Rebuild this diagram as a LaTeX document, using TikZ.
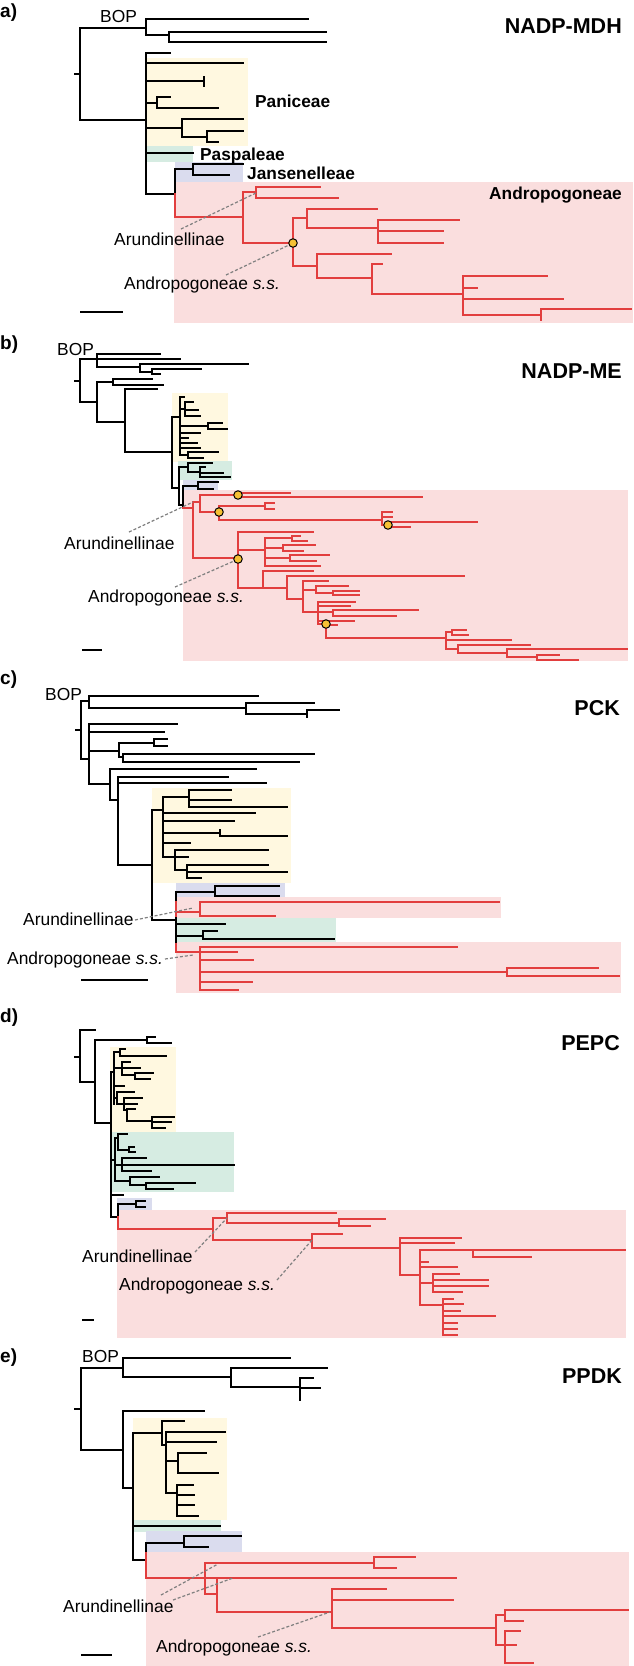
\documentclass[tikz,border=0pt]{standalone}
\usepackage{fontspec}
\setmainfont{Liberation Sans}
\definecolor{tred}{RGB}{226,62,62}
\definecolor{bgpink}{RGB}{250,222,222}
\definecolor{bgyel}{RGB}{255,248,224}
\definecolor{bggrn}{RGB}{214,236,226}
\definecolor{bglav}{RGB}{218,220,238}
\definecolor{nodeyel}{RGB}{246,193,52}
\newcommand\trh[3]{\draw (#1,#2) -- (#3,#2);}
\newcommand\trv[3]{\draw (#1,#2) -- (#1,#3);}
\tikzset{
  blk/.style={line width=1.6pt, black, line cap=rect},
  rd/.style={line width=1.6pt, tred, line cap=rect},
  lab/.style={inner sep=0pt, anchor=base west, font=\fontsize{17.4}{20}\selectfont},
  grp/.style={inner sep=0pt, anchor=base west, font=\fontsize{17.3}{20}\selectfont\bfseries},
  ttl/.style={inner sep=0pt, anchor=base east, font=\fontsize{21.5}{24}\selectfont\bfseries},
  pl/.style={inner sep=0pt, anchor=base west, font=\fontsize{19}{22}\selectfont\bfseries},
  lead/.style={dashed, dash pattern=on 3pt off 2pt, line width=1.2pt, gray},
  sbar/.style={line width=1.6pt, black},
  dot/.style={circle, draw=black, fill=nodeyel, minimum size=8.5pt, inner sep=0pt, line width=1pt}
}
\begin{document}
\begin{tikzpicture}[x=1pt,y=-1pt]
\useasboundingbox (0,0) rectangle (633,1666);
\fill[white] (0,0) rectangle (633,1666);
% ================= panel a =================
\fill[bgyel] (146,58) rectangle (248,146);
\fill[bggrn] (146,146) rectangle (193,162);
\fill[bglav] (175,162) rectangle (243,182);
\fill[bgpink] (174,182) rectangle (633,323);
\begin{scope}[blk]
\trh{75}{74}{80}\trv{80}{28}{120}\trh{80}{28}{146}\trv{146}{19}{35}
\trh{146}{19}{308}\trh{146}{35}{169}\trv{169}{32}{42}\trh{169}{32}{326}\trh{169}{42}{326}
\trh{80}{120}{146}\trv{146}{53}{194}\trh{146}{53}{170}\trh{146}{63}{243}
\trh{146}{81}{204}\trv{204}{77}{86}
\trh{146}{103}{157}\trv{157}{97}{108}\trh{157}{97}{170}\trh{157}{108}{218}
\trh{146}{128}{182}\trv{182}{119}{137}\trh{182}{119}{243}\trh{182}{137}{207}
\trv{207}{131}{142}\trh{207}{131}{243}\trh{207}{142}{218}
\trh{146}{153}{193}
\trh{146}{194}{175}\trv{175}{169}{194}\trh{175}{169}{193}\trv{193}{164}{175}
\trh{193}{164}{243}\trh{193}{175}{229}
\end{scope}
\begin{scope}[rd]
\trv{175}{194}{217}\trh{175}{217}{243}\trv{243}{192}{243}
\trh{243}{192}{256}\trv{256}{187}{198}\trh{256}{187}{320}\trh{256}{198}{338}
\trh{243}{243}{293}\trv{293}{218}{266}
\trh{293}{218}{307}\trv{307}{209}{228}\trh{307}{209}{377}\trh{307}{228}{378}
\trv{378}{220}{243}\trh{378}{220}{459}\trh{378}{231}{443}\trh{378}{243}{443}
\trh{293}{266}{317}\trv{317}{254}{278}\trh{317}{254}{391}\trh{317}{278}{372}
\trv{372}{264}{294}\trh{372}{264}{382}\trh{372}{294}{463}
\trv{463}{276}{315}\trh{463}{276}{547}\trh{463}{288}{477}\trh{463}{299}{563}
\trh{463}{315}{541}\trv{541}{309}{320}\trh{541}{309}{631}
\end{scope}
\node[dot] (a1) at (293,243) {};
\node[pl] (aL) at (0,17) {a)};
\node[lab] (aB) at (100,22.5) {BOP};
\node[ttl] (aT) at (622,33.5) {NADP-MDH};
\node[grp] (aP) at (255,107.5) {Paniceae};
\node[grp] (aS) at (200,160.5) {Paspaleae};
\node[grp] (aJ) at (247,179.5) {Jansenelleae};
\node[grp] (aA) at (489,199.5) {Andropogoneae};
\node[lab] (aR) at (114,245.5) {Arundinellinae};
\node[lab] (aS2) at (124,289.5) {Andropogoneae {\itshape s.s.}};
\coordinate (aR1) at (181,229); \coordinate (aR2) at (256,193);
\coordinate (aS1) at (226,275); \coordinate (aS3) at (289,245);
\draw[lead] (aR1) -- (aR2);
\draw[lead] (aS1) -- (aS3);
\coordinate (aK1) at (80,312); \coordinate (aK2) at (123,312);
\draw[sbar] (aK1) -- (aK2);
% ================= panel b =================
\fill[bgyel] (172,393) rectangle (228,462);
\fill[bggrn] (178,461) rectangle (232,480);
\fill[bglav] (183,480) rectangle (218,490);
\fill[bgpink] (183,490) rectangle (628,661);
\begin{scope}[blk]
\trh{75}{381}{80}\trv{80}{359}{402}\trh{80}{359}{97}\trv{97}{354}{367}
\trh{97}{354}{160}\trh{97}{359}{180}\trh{97}{367}{140}\trv{140}{364}{372}
\trh{140}{364}{248}\trh{140}{372}{152}\trv{152}{369}{374}\trh{152}{369}{201}\trh{152}{374}{160}
\trh{80}{402}{97}\trv{97}{382}{422}\trh{97}{382}{113}\trv{113}{379}{385}
\trh{113}{379}{152}\trh{113}{385}{163}
\trh{97}{422}{125}\trv{125}{389}{452}\trh{125}{389}{157}\trh{125}{452}{172}
\trv{172}{417}{488}\trh{172}{417}{180}\trv{180}{397}{455}
\trh{180}{397}{184}\trh{180}{409}{185}\trv{185}{402}{416}\trh{185}{402}{193}
\trh{185}{410}{198}\trh{185}{416}{200}
\trh{180}{426}{208}\trv{208}{423}{429}\trh{208}{423}{222}\trh{208}{429}{227}
\trh{180}{433}{200}\trh{180}{438}{188}\trh{180}{443}{197}\trh{180}{448}{200}
\trh{180}{455}{188}\trv{188}{452}{458}\trh{188}{452}{218}\trh{188}{458}{203}
\trh{172}{488}{179}\trv{179}{467}{505}
\trh{179}{467}{188}\trv{188}{463}{472}\trh{188}{463}{212}\trh{188}{472}{200}
\trv{200}{467}{477}\trh{200}{467}{205}\trh{200}{473}{223}\trh{200}{477}{230}
\trh{179}{505}{183}\trv{183}{486}{508}\trh{183}{486}{198}\trv{198}{482}{489}
\trh{198}{482}{218}\trh{198}{489}{213}
\end{scope}
\begin{scope}[rd]
\trh{183}{508}{193}\trv{193}{502}{558}
\trh{193}{502}{200}\trv{200}{495}{512}\trh{200}{495}{238}\trv{238}{493}{497}
\trh{238}{493}{290}\trh{238}{497}{422}
\trh{200}{512}{219}\trv{219}{506}{520}\trh{219}{506}{265}\trv{265}{503}{509}
\trh{265}{503}{274}\trh{265}{509}{274}
\trh{219}{520}{382}\trv{382}{512}{525}\trh{382}{512}{392}\trh{382}{517}{392}
\trh{382}{525}{388}\trv{388}{522}{527}\trh{388}{522}{477}\trh{388}{527}{410}
\trh{193}{558}{238}\trv{238}{532}{588}\trh{238}{532}{313}
\trh{238}{550}{265}\trv{265}{538}{566}
\trh{265}{538}{292}\trv{292}{536}{541}\trh{292}{536}{300}\trh{292}{541}{307}
\trh{265}{548}{283}\trv{283}{545}{551}\trh{283}{545}{315}\trh{283}{551}{303}
\trh{265}{558}{290}\trv{290}{555}{561}\trh{290}{555}{329}\trh{290}{561}{316}
\trh{265}{566}{320}
\trh{238}{588}{263}\trv{263}{571}{588}\trh{263}{571}{313}\trh{263}{588}{287}
\trv{287}{576}{599}\trh{287}{576}{464}\trh{287}{599}{303}
\trv{303}{581}{612}\trh{303}{581}{328}
\trh{303}{590}{316}\trv{316}{586}{593}\trh{316}{586}{348}\trh{316}{593}{333}
\trv{333}{591}{595}\trh{333}{591}{359}\trh{333}{595}{359}
\trh{303}{612}{318}\trv{318}{602}{624}\trh{318}{602}{355}\trh{318}{606}{350}
\trh{318}{612}{333}\trv{333}{610}{616}\trh{333}{610}{418}\trh{333}{616}{396}
\trh{318}{621}{354}\trh{318}{624}{326}
\trv{326}{624}{638}\trh{326}{625}{337}\trh{326}{638}{446}
\trv{446}{632}{649}\trh{446}{632}{452}\trv{452}{630}{635}\trh{452}{630}{466}\trh{452}{635}{468}
\trh{446}{640}{511}\trh{446}{649}{458}\trv{458}{645}{653}\trh{458}{645}{530}
\trh{458}{653}{507}\trv{507}{649}{657}\trh{507}{649}{627}\trh{507}{657}{537}
\trv{537}{655}{660}\trh{537}{655}{559}\trh{537}{660}{578}
\end{scope}
\node[dot] (b1) at (238,495) {};
\node[dot] (b2) at (219,512) {};
\node[dot] (b3) at (388,525) {};
\node[dot] (b4) at (238,559) {};
\node[dot] (b5) at (326,624) {};
\node[pl] (bL) at (0,349) {b)};
\node[lab] (bB) at (57,355.5) {BOP};
\node[ttl] (bT) at (622,378.5) {NADP-ME};
\node[lab] (bR) at (64,549.5) {Arundinellinae};
\node[lab] (bS) at (88,602.5) {Andropogoneae {\itshape s.s.}};
\coordinate (bR1) at (129,532); \coordinate (bR2) at (193,502);
\coordinate (bS1) at (175,587); \coordinate (bS2) at (234,561);
\draw[lead] (bR1) -- (bR2);
\draw[lead] (bS1) -- (bS2);
\coordinate (bK1) at (82,650); \coordinate (bK2) at (102,650);
\draw[sbar] (bK1) -- (bK2);
% ================= panel c =================
\fill[bgyel] (152,788) rectangle (291,883);
\fill[bglav] (176,883) rectangle (285,897);
\fill[bgpink] (176,897) rectangle (501,918);
\fill[bggrn] (176,918) rectangle (336,942);
\fill[bgpink] (176,942) rectangle (621,993);
\begin{scope}[blk]
\trh{76}{730}{81}\trv{81}{701}{759}\trh{81}{701}{89}\trv{89}{696}{708}
\trh{89}{696}{258}\trh{89}{708}{246}\trv{246}{703}{714}\trh{246}{703}{314}
\trh{246}{714}{307}\trv{307}{710}{717}\trh{307}{710}{339}
\trh{81}{759}{89}\trv{89}{724}{784}\trh{89}{724}{177}\trh{89}{732}{164}
\trh{89}{751}{119}\trv{119}{743}{757}\trh{119}{743}{154}\trv{154}{739}{746}
\trh{154}{739}{167}\trh{154}{746}{167}
\trh{119}{757}{123}\trv{123}{754}{762}\trh{123}{754}{314}\trh{123}{762}{299}
\trh{89}{784}{110}\trv{110}{769}{800}\trh{110}{769}{256}\trh{110}{800}{118}
\trv{118}{777}{865}\trh{118}{777}{228}\trh{118}{783}{266}\trh{118}{865}{152}
\trv{152}{810}{920}\trh{152}{810}{163}\trv{163}{797}{857}
\trh{163}{797}{189}\trv{189}{790}{807}\trh{189}{790}{231}\trh{189}{800}{231}\trh{189}{807}{287}
\trh{163}{813}{255}\trh{163}{821}{234}
\trh{163}{833}{220}\trv{220}{830}{836}\trh{220}{836}{287}
\trh{163}{843}{190}
\trh{163}{857}{175}\trv{175}{850}{870}\trh{175}{850}{268}\trh{175}{857}{188}
\trh{175}{870}{187}\trv{187}{865}{878}\trh{187}{865}{268}\trh{187}{872}{287}\trh{187}{878}{201}
\trh{152}{920}{176}\trv{176}{892}{944}
\trh{176}{892}{215}\trv{215}{886}{896}\trh{215}{886}{279}\trh{215}{896}{279}
\trh{176}{924}{225}
\trh{176}{936}{203}\trv{203}{931}{939}\trh{203}{931}{217}\trh{203}{939}{334}
\end{scope}
\begin{scope}[rd]
\trv{176}{902}{916}
\trh{176}{912}{200}\trv{200}{902}{916}\trh{200}{902}{499}\trh{200}{916}{275}
\trv{176}{944}{952}
\trh{176}{952}{200}\trv{200}{947}{990}\trh{200}{947}{457}\trh{200}{952}{237}
\trh{200}{960}{253}\trh{200}{972}{507}\trv{507}{968}{976}\trh{507}{968}{598}
\trh{507}{976}{619}\trh{200}{982}{252}\trh{200}{990}{238}
\end{scope}
\node[pl] (cL) at (0,684) {c)};
\node[lab] (cB) at (45,700.5) {BOP};
\node[ttl] (cT) at (620,715.5) {PCK};
\node[lab] (cR) at (23,925.5) {Arundinellinae};
\node[lab] (cS) at (7,964.5) {Andropogoneae {\itshape s.s.}};
\coordinate (cR1) at (135,920); \coordinate (cR2) at (193,908);
\coordinate (cS1) at (165,959); \coordinate (cS2) at (193,955);
\draw[lead] (cR1) -- (cR2);
\draw[lead] (cS1) -- (cS2);
\coordinate (cK1) at (81,980); \coordinate (cK2) at (148,980);
\draw[sbar] (cK1) -- (cK2);
% ================= panel d =================
\fill[bgyel] (110,1047) rectangle (176,1132);
\fill[bggrn] (112,1132) rectangle (234,1192);
\fill[bglav] (117,1198) rectangle (152,1210);
\fill[bgpink] (117,1210) rectangle (626,1338);
\begin{scope}[blk]
\trh{75}{1057}{80}\trv{80}{1030}{1082}\trh{80}{1030}{95}\trh{80}{1082}{95}
\trv{95}{1040}{1123}\trh{95}{1040}{147}\trv{147}{1037}{1043}\trh{147}{1037}{155}\trh{147}{1043}{171}
\trh{95}{1123}{111}\trv{111}{1072}{1217}\trh{111}{1072}{114}\trv{114}{1052}{1104}
\trh{114}{1052}{120}\trv{120}{1049}{1056}\trh{120}{1049}{125}\trh{120}{1056}{166}
\trh{114}{1068}{122}\trv{122}{1062}{1075}\trh{122}{1062}{130}\trh{122}{1068}{140}
\trh{122}{1075}{135}\trv{135}{1073}{1079}\trh{135}{1073}{153}\trh{135}{1079}{150}
\trh{114}{1086}{124}
\trh{114}{1098}{117}\trv{117}{1092}{1104}\trh{117}{1092}{134}\trh{117}{1104}{124}
\trv{124}{1098}{1110}\trh{124}{1098}{142}\trh{124}{1104}{137}\trh{124}{1110}{127}
\trv{127}{1109}{1121}\trh{127}{1109}{135}\trh{127}{1121}{152}
\trv{152}{1117}{1128}\trh{152}{1117}{174}\trh{152}{1122}{171}\trh{152}{1128}{165}
\trh{111}{1160}{115}\trv{115}{1138}{1181}
\trh{115}{1138}{118}\trv{118}{1134}{1150}\trh{118}{1134}{127}\trh{118}{1150}{129}
\trv{129}{1147}{1152}\trh{129}{1147}{134}\trh{129}{1152}{135}
\trh{115}{1165}{122}\trv{122}{1158}{1171}\trh{122}{1158}{146}\trh{122}{1165}{234}\trh{122}{1171}{151}
\trh{115}{1181}{130}\trv{130}{1177}{1185}\trh{130}{1177}{159}\trh{130}{1185}{146}
\trv{146}{1183}{1189}\trh{146}{1183}{195}\trh{146}{1189}{173}
\trh{111}{1195}{123}
\trh{111}{1217}{118}\trv{118}{1204}{1217}\trh{118}{1204}{136}\trv{136}{1201}{1207}
\trh{136}{1201}{145}\trh{136}{1207}{145}
\end{scope}
\begin{scope}[rd]
\trv{118}{1217}{1229}\trh{118}{1229}{213}\trv{213}{1218}{1240}
\trh{213}{1218}{227}\trv{227}{1213}{1223}\trh{227}{1213}{336}\trh{227}{1223}{339}
\trv{339}{1219}{1226}\trh{339}{1219}{385}\trh{339}{1226}{370}
\trh{213}{1240}{312}\trv{312}{1234}{1248}\trh{312}{1234}{342}\trh{312}{1248}{400}
\trv{400}{1238}{1275}\trh{400}{1238}{461}\trh{400}{1243}{454}\trh{400}{1275}{420}
\trv{420}{1250}{1305}\trh{420}{1250}{473}\trv{473}{1250}{1257}\trh{473}{1250}{625}\trh{473}{1257}{531}
\trh{420}{1262}{428}\trh{420}{1267}{457}
\trh{420}{1283}{433}\trv{433}{1274}{1292}\trh{433}{1274}{459}\trh{433}{1280}{488}
\trh{433}{1286}{488}\trh{433}{1292}{462}
\trh{420}{1305}{443}\trv{443}{1299}{1335}\trh{443}{1299}{453}\trh{443}{1304}{463}
\trh{443}{1311}{460}\trh{443}{1316}{495}\trh{443}{1323}{457}\trh{443}{1329}{457}\trh{443}{1335}{457}
\end{scope}
\node[pl] (dL) at (0,1022) {d)};
\node[ttl] (dT) at (620,1050.5) {PEPC};
\node[lab] (dR) at (82,1262.5) {Arundinellinae};
\node[lab] (dS) at (119,1290.5) {Andropogoneae {\itshape s.s.}};
\coordinate (dR1) at (195,1252); \coordinate (dR2) at (227,1218);
\coordinate (dS1) at (277,1280); \coordinate (dS2) at (312,1240);
\draw[lead] (dR1) -- (dR2);
\draw[lead] (dS1) -- (dS2);
\coordinate (dK1) at (82,1320); \coordinate (dK2) at (94,1320);
\draw[sbar] (dK1) -- (dK2);
% ================= panel e =================
\fill[bgyel] (133,1418) rectangle (227,1520);
\fill[bggrn] (133,1520) rectangle (221,1532);
\fill[bglav] (146,1531) rectangle (242,1552);
\fill[bgpink] (146,1552) rectangle (629,1666);
\begin{scope}[blk]
\trh{75}{1409}{81}\trv{81}{1368}{1450}\trh{81}{1368}{123}\trv{123}{1358}{1377}
\trh{123}{1358}{290}\trh{123}{1377}{231}\trv{231}{1368}{1387}\trh{231}{1368}{327}
\trh{231}{1387}{300}\trv{300}{1378}{1400}\trh{300}{1378}{313}\trh{300}{1388}{320}
\trh{81}{1450}{123}\trv{123}{1411}{1488}\trh{123}{1411}{204}\trh{123}{1488}{133}
\trv{133}{1433}{1560}\trh{133}{1433}{162}\trv{162}{1421}{1445}\trh{162}{1421}{184}
\trh{162}{1445}{166}\trv{166}{1432}{1493}\trh{166}{1432}{225}\trh{166}{1442}{216}
\trh{166}{1461}{178}\trv{178}{1453}{1473}\trh{178}{1453}{206}\trh{178}{1473}{218}
\trh{166}{1493}{177}\trv{177}{1485}{1516}\trh{177}{1485}{193}\trh{177}{1495}{194}
\trh{177}{1505}{194}\trh{177}{1516}{198}
\trh{133}{1526}{220}
\trh{133}{1560}{146}\trv{146}{1543}{1553}\trh{146}{1543}{184}\trv{184}{1536}{1547}
\trh{184}{1536}{241}\trh{184}{1547}{208}
\end{scope}
\begin{scope}[rd]
\trv{146}{1553}{1578}\trh{146}{1578}{456}\trv{205}{1563}{1594}
\trh{205}{1563}{374}\trv{374}{1557}{1568}\trh{374}{1557}{415}\trh{374}{1568}{396}
\trh{205}{1594}{217}\trv{217}{1578}{1612}\trh{217}{1612}{332}
\trv{332}{1589}{1628}\trh{332}{1589}{386}\trh{332}{1600}{453}\trh{332}{1628}{496}
\trv{496}{1615}{1645}\trh{496}{1615}{505}\trv{505}{1610}{1621}\trh{505}{1610}{628}\trh{505}{1621}{523}
\trh{496}{1645}{505}\trv{505}{1631}{1663}\trh{505}{1631}{520}\trh{505}{1645}{516}\trh{505}{1663}{533}
\end{scope}
\node[pl] (eL) at (0,1362) {e)};
\node[lab] (eB) at (82,1362.5) {BOP};
\node[ttl] (eT) at (622,1383.5) {PPDK};
\node[lab] (eR) at (63,1612.5) {Arundinellinae};
\node[lab] (eS) at (156,1652.5) {Andropogoneae {\itshape s.s.}};
\coordinate (eR1) at (161,1595); \coordinate (eR2) at (218,1564);
\coordinate (eR3) at (173,1600); \coordinate (eR4) at (233,1578);
\coordinate (eS1) at (258,1637); \coordinate (eS2) at (330,1612);
\draw[lead] (eR1) -- (eR2);
\draw[lead] (eR3) -- (eR4);
\draw[lead] (eS1) -- (eS2);
\coordinate (eK1) at (81,1655); \coordinate (eK2) at (112,1655);
\draw[sbar] (eK1) -- (eK2);
\end{tikzpicture}
\end{document}
